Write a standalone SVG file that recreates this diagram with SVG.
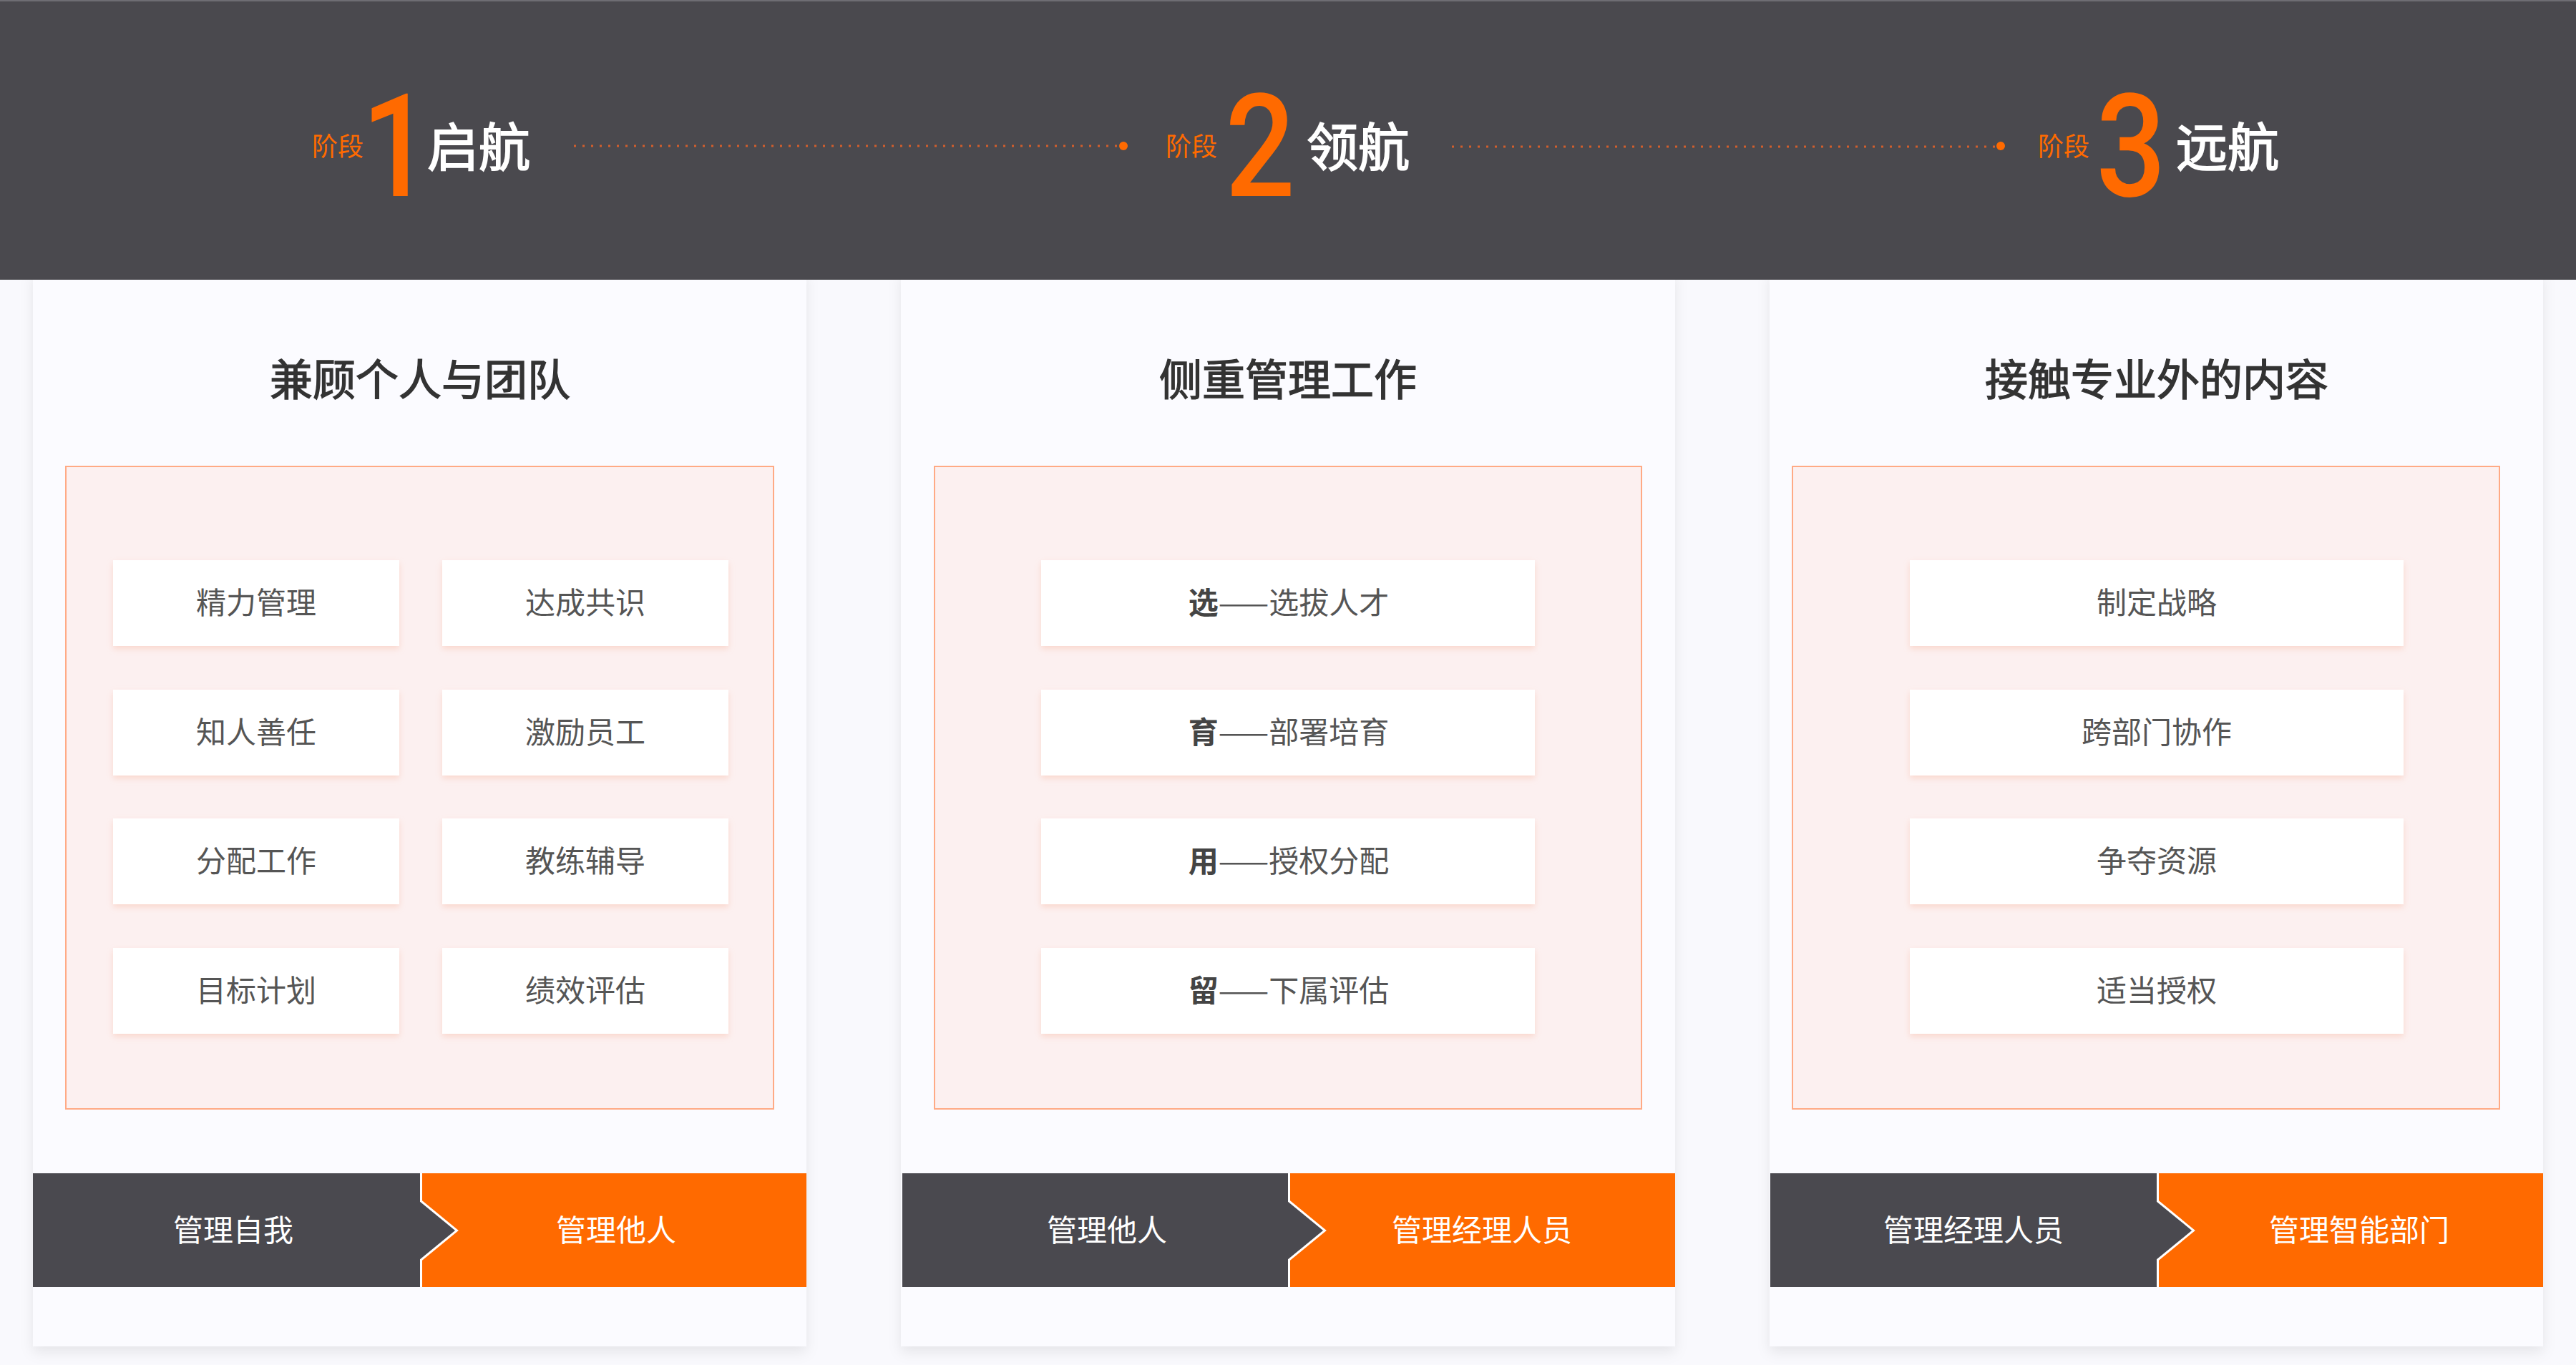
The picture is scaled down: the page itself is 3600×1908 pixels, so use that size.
<svg xmlns="http://www.w3.org/2000/svg" width="3600" height="1908" viewBox="0 0 3600 1908">
<defs>
<style>
.card{fill:#fbfbff;filter:url(#cardShadow)}
.pink{fill:#fcf0f0;stroke:#ffaa85;stroke-width:2}
.item{fill:#ffffff;filter:url(#itemShadow)}
.itxt{font-family:"Noto Sans CJK SC","Noto Sans",sans-serif;font-size:42px;fill:#555555;text-anchor:middle}
.title{font-family:"Noto Sans CJK SC","Noto Sans",sans-serif;font-size:60px;fill:#333333;text-anchor:middle;font-weight:400;stroke:#333333;stroke-width:1.4}
.btxt{font-family:"Noto Sans CJK SC","Noto Sans",sans-serif;font-size:42px;fill:#ffffff;text-anchor:middle}
.dark{fill:#4a494f}
.orange{fill:#ff6a00}
.sep{fill:none;stroke:#ffffff;stroke-width:3}
.stage{font-family:"Noto Sans CJK SC","Noto Sans",sans-serif;font-size:36px;fill:#ff6a00}
.num{font-family:Roboto,"Liberation Sans",sans-serif;font-size:200px;fill:#ff6a00;font-weight:500;text-anchor:middle}
.name{font-family:"Noto Sans CJK SC","Noto Sans",sans-serif;font-size:72px;fill:#ffffff;font-weight:400;stroke:#ffffff;stroke-width:1.8}
.dots{fill:none;stroke:#d25e2c;stroke-width:3;stroke-dasharray:3 9}
</style>
<filter id="cardShadow" x="-5%" y="-5%" width="110%" height="110%">
<feDropShadow dx="0" dy="8" stdDeviation="9" flood-color="#000000" flood-opacity="0.08"/>
</filter>
<filter id="itemShadow" x="-5%" y="-20%" width="110%" height="150%">
<feDropShadow dx="0" dy="4" stdDeviation="4" flood-color="#f7b9a3" flood-opacity="0.45"/>
</filter>
</defs>
<rect x="0" y="0" width="3600" height="1908" fill="#f9f9fd"/>

<!-- Card 1 -->
<g id="card1">
<rect class="card" x="46" y="380" width="1081" height="1502"/>
<text class="title" x="587" y="553">兼顾个人与团队</text>
<rect class="pink" x="92" y="652" width="989" height="898"/>
<g id="c1-items">
<rect class="item" x="158" y="783" width="400" height="120"/><text class="itxt" x="358" y="858">精力管理</text>
<rect class="item" x="618" y="783" width="400" height="120"/><text class="itxt" x="818" y="858">达成共识</text>
<rect class="item" x="158" y="964" width="400" height="120"/><text class="itxt" x="358" y="1039">知人善任</text>
<rect class="item" x="618" y="964" width="400" height="120"/><text class="itxt" x="818" y="1039">激励员工</text>
<rect class="item" x="158" y="1144" width="400" height="120"/><text class="itxt" x="358" y="1219">分配工作</text>
<rect class="item" x="618" y="1144" width="400" height="120"/><text class="itxt" x="818" y="1219">教练辅导</text>
<rect class="item" x="158" y="1325" width="400" height="120"/><text class="itxt" x="358" y="1400">目标计划</text>
<rect class="item" x="618" y="1325" width="400" height="120"/><text class="itxt" x="818" y="1400">绩效评估</text>
</g>
<g id="c1-band">
<rect class="orange" x="586" y="1640" width="541" height="159"/>
<polygon class="dark" points="46,1640 587,1640 587,1679 637,1720 587,1761 587,1799 46,1799"/>
<polyline class="sep" points="588.5,1640 588.5,1679 638.5,1720 588.5,1761 588.5,1799"/>
<text class="btxt" x="326" y="1735">管理自我</text>
<text class="btxt" x="861" y="1735">管理他人</text>
</g>
</g>

<!-- Card 2 -->
<g id="card2">
<rect class="card" x="1259" y="380" width="1082" height="1502"/>
<text class="title" x="1800" y="553">侧重管理工作</text>
<rect class="pink" x="1306" y="652" width="988" height="898"/>
<g id="c2-items">
<rect class="item" x="1455" y="783" width="690" height="120"/><text class="itxt" x="1801" y="858"><tspan font-weight="700" fill="#444">选</tspan>——选拔人才</text>
<rect class="item" x="1455" y="964" width="690" height="120"/><text class="itxt" x="1801" y="1039"><tspan font-weight="700" fill="#444">育</tspan>——部署培育</text>
<rect class="item" x="1455" y="1144" width="690" height="120"/><text class="itxt" x="1801" y="1219"><tspan font-weight="700" fill="#444">用</tspan>——授权分配</text>
<rect class="item" x="1455" y="1325" width="690" height="120"/><text class="itxt" x="1801" y="1400"><tspan font-weight="700" fill="#444">留</tspan>——下属评估</text>
</g>
<g id="c2-band">
<rect class="orange" x="1799" y="1640" width="542" height="159"/>
<polygon class="dark" points="1261,1640 1800,1640 1800,1679 1850,1720 1800,1761 1800,1799 1261,1799"/>
<polyline class="sep" points="1801.5,1640 1801.5,1679 1851.5,1720 1801.5,1761 1801.5,1799"/>
<text class="btxt" x="1547" y="1735">管理他人</text>
<text class="btxt" x="2071" y="1735">管理经理人员</text>
</g>
</g>

<!-- Card 3 -->
<g id="card3">
<rect class="card" x="2473" y="380" width="1081" height="1502"/>
<text class="title" x="3014" y="553">接触专业外的内容</text>
<rect class="pink" x="2505" y="652" width="988" height="898"/>
<g id="c3-items">
<rect class="item" x="2669" y="783" width="690" height="120"/><text class="itxt" x="3014" y="858">制定战略</text>
<rect class="item" x="2669" y="964" width="690" height="120"/><text class="itxt" x="3014" y="1039">跨部门协作</text>
<rect class="item" x="2669" y="1144" width="690" height="120"/><text class="itxt" x="3014" y="1219">争夺资源</text>
<rect class="item" x="2669" y="1325" width="690" height="120"/><text class="itxt" x="3014" y="1400">适当授权</text>
</g>
<g id="c3-band">
<rect class="orange" x="3013" y="1640" width="541" height="159"/>
<polygon class="dark" points="2474,1640 3014,1640 3014,1679 3064,1720 3014,1761 3014,1799 2474,1799"/>
<polyline class="sep" points="3015.5,1640 3015.5,1679 3065.5,1720 3015.5,1761 3015.5,1799"/>
<text class="btxt" x="2758" y="1735">管理经理人员</text>
<text class="btxt" x="3297" y="1735">管理智能部门</text>
</g>
</g>

<!-- Header -->
<g id="header">
<rect x="0" y="0" width="3600" height="391" fill="#4a494e"/>
<rect x="0" y="0" width="3600" height="2" fill="#6e6d73"/>
</g>
<g id="connectors">
<line class="dots" x1="802" y1="204" x2="1562" y2="204"/>
<circle cx="1570" cy="204" r="6" fill="#ff6a00"/>
<line class="dots" x1="2029" y1="205" x2="2788" y2="205"/>
<circle cx="2796" cy="204" r="6" fill="#ff6a00"/>
</g>
<g id="stage1">
<text class="stage" x="436" y="218">阶段</text>
<text class="num" transform="translate(554,274) scale(0.86,1)">1</text>
<text class="name" x="597" y="232">启航</text>
</g>
<g id="stage2">
<text class="stage" x="1629" y="218">阶段</text>
<text class="num" transform="translate(1761,274) scale(0.86,1)">2</text>
<text class="name" x="1826" y="232">领航</text>
</g>
<g id="stage3">
<text class="stage" x="2848" y="218">阶段</text>
<text class="num" transform="translate(2978,274) scale(0.86,1)">3</text>
<text class="name" x="3041" y="232">远航</text>
</g>
</svg>
